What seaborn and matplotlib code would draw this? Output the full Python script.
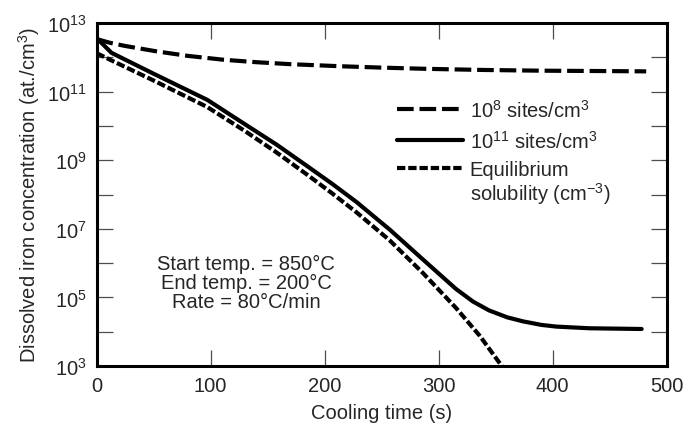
import matplotlib
matplotlib.use('Agg')
from matplotlib import pyplot as plt
from matplotlib.lines import Line2D
from matplotlib.ticker import NullLocator
import numpy as np
import pandas as pd
import seaborn as sns

# cooling time (s) and dissolved Fe (at./cm3)
t_low = [0, 12, 25, 53, 80, 111, 140, 170, 213, 250, 290, 340, 390, 440, 482]
fe_low = [3.39e12, 2.63e12, 2.14e12, 1.48e12, 1.10e12, 8.5e11, 7.2e11, 6.3e11,
          5.5e11, 5.0e11, 4.6e11, 4.27e11, 4.07e11, 3.98e11, 3.89e11]

t_high = [0, 13, 50, 97, 130, 158, 185, 207, 228, 257, 286, 315, 330, 344, 360,
          374, 390, 403, 432, 478]
fe_high = [3.63e12, 1.35e12, 3.31e11, 5.75e10, 1.12e10, 2.82e9, 6.6e8, 2.0e8,
           6.0e7, 9.5e6, 1.29e6, 1.78e5, 7.6e4, 4.2e4, 2.63e4, 2.0e4, 1.58e4,
           1.41e4, 1.26e4, 1.2e4]

t_eq = [0, 13, 50, 97, 130, 158, 185, 207, 228, 257, 286, 315, 336, 356]
fe_eq = [1.32e12, 8.1e11, 2.1e11, 3.55e10, 7.1e9, 1.66e9, 3.7e8, 1.05e8, 3.0e7,
         4.6e6, 5.2e5, 5.0e4, 7.6e3, 9.3e2]

labels = ['$10^8$ sites/cm$^3$', '$10^{11}$ sites/cm$^3$', 'Equilibrium']
label_extra = 'solubility (cm$^{-3}$)'

x_ticks = [0, 100, 200, 300, 400, 500]
y_exps = list(range(3, 14))
y_tick_labels = ['$10^{3}$', '', '$10^{5}$', '', '$10^{7}$', '', '$10^{9}$', '',
                 '$10^{11}$', '', '$10^{13}$']

note = 'Start temp. = 850\u00b0C\nEnd temp. = 200\u00b0C\nRate = 80\u00b0C/min'

sns.set_style('ticks')
plt.rcParams['font.family'] = ['Liberation Sans', 'DejaVu Sans']
plt.rcParams['mathtext.fontset'] = 'custom'
plt.rcParams['mathtext.rm'] = 'Liberation Sans'
plt.rcParams['mathtext.it'] = 'Liberation Sans:italic'
plt.rcParams['mathtext.bf'] = 'Liberation Sans:bold'

fs = 14.5
lw = 3
ls_low = (0, (4, 1.4))
ls_eq = (0, (2, 0.7))

fig = plt.figure(figsize=(6.94, 4.27), dpi=100)
ax = fig.add_axes([0.1393, 0.1405, 0.8214, 0.8033])

sns.lineplot(x=t_low, y=fe_low, ax=ax, color='black', lw=lw, linestyle=ls_low)
sns.lineplot(x=t_high, y=fe_high, ax=ax, color='black', lw=lw, linestyle='-')
sns.lineplot(x=t_eq, y=fe_eq, ax=ax, color='black', lw=lw, linestyle=ls_eq)

ax.set_yscale('log')
ax.set_xlim(0, 500)
ax.set_ylim(1e3, 1e13)
ax.set_xticks(x_ticks)
ax.set_xticklabels([str(v) for v in x_ticks], fontsize=fs)
ax.set_yticks([10.0 ** k for k in y_exps])
ax.set_yticklabels(y_tick_labels, fontsize=fs)
ax.yaxis.set_minor_locator(NullLocator())
ax.tick_params(axis='both', direction='in', length=11.5, width=0.9, color='0.3',
               top=True, right=True, pad=7)
for sp in ax.spines.values():
    sp.set_linewidth(2.2)
    sp.set_color('black')

ax.set_xlabel('Cooling time (s)', fontsize=fs, labelpad=6)
ax.set_ylabel('Dissolved iron concentration (at./cm$^3$)', fontsize=fs, labelpad=4)

handles = [Line2D([], [], color='black', lw=lw, linestyle=ls_low),
           Line2D([], [], color='black', lw=lw, linestyle='-'),
           Line2D([], [], color='black', lw=lw, linestyle=ls_eq)]
leg = ax.legend(handles, labels, loc='upper left', bbox_to_anchor=(0.527, 0.78),
                frameon=False, fontsize=fs, handlelength=3.25, handletextpad=0.35,
                labelspacing=0.45, borderpad=0, borderaxespad=0)

fig.canvas.draw()
bb = leg.get_texts()[2].get_window_extent()
x0, y0 = ax.transAxes.inverted().transform((bb.x0, bb.y0 - 1))
ax.text(x0, y0, label_extra, transform=ax.transAxes, fontsize=fs, ha='left', va='top')

ax.text(0.262, 0.244, note, transform=ax.transAxes, fontsize=fs, ha='center',
        va='center', linespacing=1.0)

plt.savefig('out.png', dpi=100)
